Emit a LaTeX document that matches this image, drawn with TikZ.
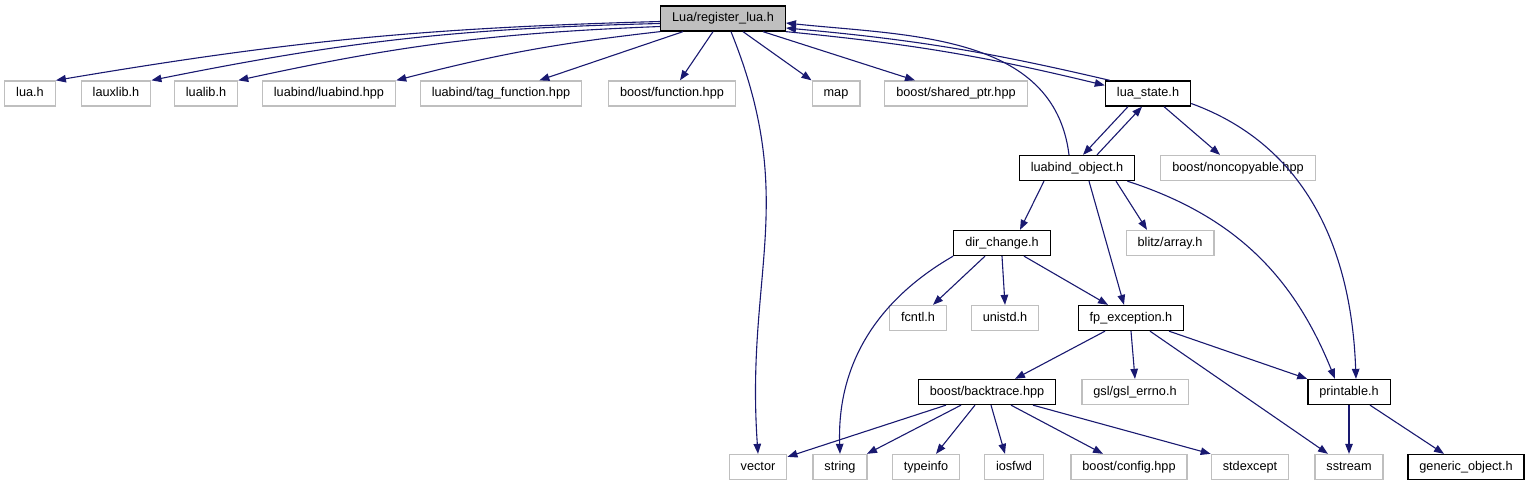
\documentclass[tikz,border=0pt]{standalone}
\usepackage{fontspec}
\setmainfont{Liberation Sans}
\usetikzlibrary{arrows.meta}
\definecolor{col1}{RGB}{25,25,112}
\definecolor{col2}{RGB}{191,191,191}

\begin{document}
\begin{tikzpicture}[x=1pt, y=1pt, font=\fontsize{12.7}{14}\selectfont,
  file/.style={draw=black, line width=1.3pt, inner xsep=11.5pt, inner ysep=0pt,
    minimum height=25pt, text height=9pt, text depth=2.5pt},
  fileext/.style={file, draw=col2},
  filemain/.style={file, fill=col2},
  dep/.style={draw=col1, line width=1.1pt, -{Triangle[length=10pt,width=7.5pt]}}]
  \useasboundingbox (0,0) rectangle (1529,-485);
  % row 0
  \node[filemain] (reg) at (723,-18.5) {Lua/register\_lua.h};
  % row 1
  \node[fileext] (lua) at (30,-93.5) {lua.h};
  \node[fileext] (lauxlib) at (116,-93.5) {lauxlib.h};
  \node[fileext] (lualib) at (206,-93.5) {lualib.h};
  \node[fileext] (luabind) at (329,-93.5) {luabind/luabind.hpp};
  \node[fileext] (tagfn) at (501,-93.5) {luabind/tag\_function.hpp};
  \node[fileext] (function) at (672,-93.5) {boost/function.hpp};
  \node[fileext] (map) at (836,-93.5) {map};
  \node[fileext] (sharedptr) at (956,-93.5) {boost/shared\_ptr.hpp};
  \node[file] (luastate) at (1148,-93.5) {lua\_state.h};
  % row 2
  \node[file] (luabindobj) at (1077,-168) {luabind\_object.h};
  \node[fileext] (noncopyable) at (1238,-168) {boost/noncopyable.hpp};
  % row 3
  \node[file] (dirchange) at (1002,-243) {dir\_change.h};
  \node[fileext] (blitz) at (1170,-243) {blitz/array.h};
  % row 4
  \node[fileext] (fcntl) at (918,-318) {fcntl.h};
  \node[fileext] (unistd) at (1005,-318) {unistd.h};
  \node[file] (fpexc) at (1131,-318) {fp\_exception.h};
  % row 5
  \node[file] (backtrace) at (987,-392) {boost/backtrace.hpp};
  \node[fileext] (gslerrno) at (1135,-392) {gsl/gsl\_errno.h};
  \node[file] (printable) at (1349,-392) {printable.h};
  % row 6
  \node[fileext] (vector) at (758,-467) {vector};
  \node[fileext] (string) at (840,-467) {string};
  \node[fileext] (typeinfo) at (926,-467) {typeinfo};
  \node[fileext] (iosfwd) at (1014,-467) {iosfwd};
  \node[fileext] (config) at (1129,-467) {boost/config.hpp};
  \node[fileext] (stdexcept) at (1250,-467) {stdexcept};
  \node[fileext] (sstream) at (1349,-467) {sstream};
  \node[file] (genericobj) at (1466,-467) {generic\_object.h};

  % includes of register_lua.h
  \draw[dep] ([yshift=-3]reg.west) to[bend right=4] (lua.north east);
  \draw[dep] ([yshift=-5]reg.west) to[bend right=5] (lauxlib.north east);
  \draw[dep] ([yshift=-8]reg.west) to[bend right=5] (lualib.north east);
  \draw[dep] (reg.south west) to[bend right=4] (luabind.north east);
  \draw[dep] ([xshift=23]reg.south west) -- ([xshift=-43]tagfn.north east);
  \draw[dep] ([xshift=-10]reg.south) -- ([xshift=8]function.north);
  \draw[dep] ([xshift=8]reg.south) to[out=-68,in=94,looseness=1.1] (vector.north);
  \draw[dep] ([xshift=20]reg.south) -- (map.north west);
  \draw[dep] ([xshift=40]reg.south) -- ([xshift=-41]sharedptr.north);
  \draw[dep] (reg.south east) to[bend left=4] ([yshift=-5]luastate.north west);
  % lua_state.h and luabind_object.h
  \draw[dep] ([xshift=5]luastate.north west) to[bend right=4] ([yshift=-9.5]reg.east);
  \draw[dep] ([xshift=-8]luabindobj.north) to[out=97,in=-6] ([yshift=-4.5]reg.east);
  \draw[dep] ([xshift=-20]luastate.south) -- ([xshift=6]luabindobj.north);
  \draw[dep] ([xshift=20]luabindobj.north) -- ([xshift=-6]luastate.south);
  \draw[dep] ([xshift=16]luastate.south) -- ([xshift=-18]noncopyable.north);
  \draw[dep] ([yshift=-10]luastate.east) to[out=-20,in=92] ([xshift=7]printable.north);
  \draw[dep] ([xshift=-33]luabindobj.south) -- ([xshift=18]dirchange.north);
  \draw[dep] ([xshift=12]luabindobj.south) -- ([xshift=-7]fpexc.north);
  \draw[dep] ([xshift=39]luabindobj.south) -- ([xshift=-23]blitz.north);
  \draw[dep] ([xshift=-8]luabindobj.south east) to[out=-18,in=112] ([xshift=-14]printable.north);
  % dir_change.h
  \draw[dep] (dirchange.south west) to[out=210,in=92] (string.north);
  \draw[dep] ([xshift=-17]dirchange.south) -- ([xshift=15]fcntl.north);
  \draw[dep] (dirchange.south) -- (unistd.north);
  \draw[dep] ([xshift=22]dirchange.south) -- ([xshift=-23]fpexc.north);
  % fp_exception.h
  \draw[dep] ([xshift=-26]fpexc.south) -- ([xshift=28]backtrace.north);
  \draw[dep] (fpexc.south) -- (gslerrno.north);
  \draw[dep] ([xshift=19]fpexc.south) -- ([xshift=-21]sstream.north);
  \draw[dep] ([xshift=38]fpexc.south) -- (printable.north west);
  % boost/backtrace.hpp
  \draw[dep] ([xshift=-41]backtrace.south) -- ([yshift=-3]vector.north east);
  \draw[dep] ([xshift=-26]backtrace.south) -- ([xshift=27]string.north);
  \draw[dep] ([xshift=-12]backtrace.south) -- ([xshift=10]typeinfo.north);
  \draw[dep] ([xshift=4]backtrace.south) -- ([xshift=-9]iosfwd.north);
  \draw[dep] ([xshift=24]backtrace.south) -- ([xshift=-26]config.north);
  \draw[dep] ([xshift=46]backtrace.south) -- (stdexcept.north west);
  % printable.h
  \draw[dep] (printable.south) -- (sstream.north);
  \draw[dep] ([xshift=21]printable.south) -- ([xshift=-22]genericobj.north);
\end{tikzpicture}
\end{document}
